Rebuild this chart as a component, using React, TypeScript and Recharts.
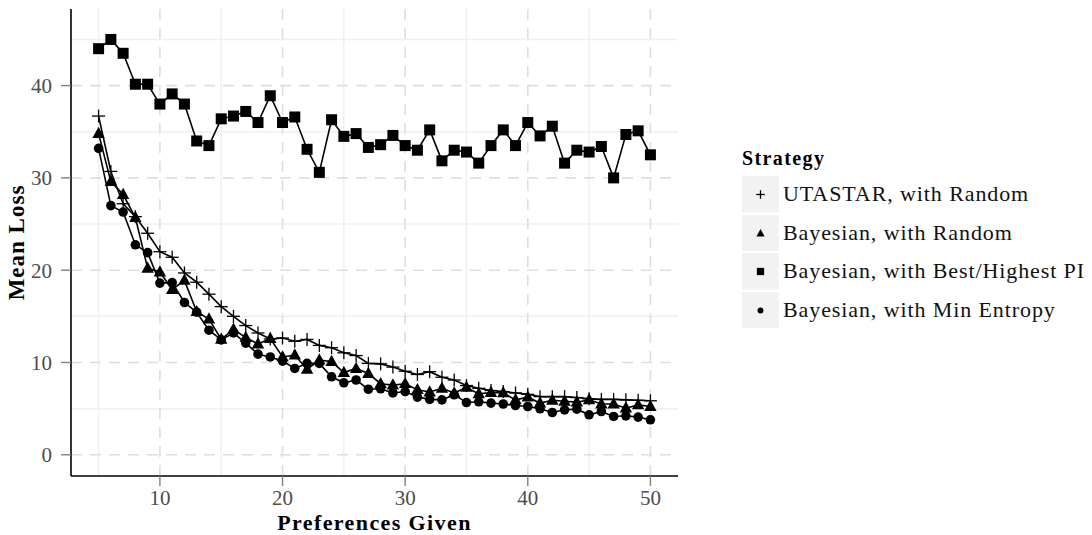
import { CartesianGrid, Line, LineChart, XAxis, YAxis } from 'recharts'

const PREFS = [
  5, 6, 7, 8, 9, 10, 11, 12, 13, 14, 15, 16, 17, 18, 19, 20, 21, 22, 23, 24, 25, 26, 27,
  28, 29, 30, 31, 32, 33, 34, 35, 36, 37, 38, 39, 40, 41, 42, 43, 44, 45, 46, 47, 48, 49, 50,
]

const UTASTAR_RANDOM = [
  36.7, 30.7, 27.2, 25.8, 24.0, 22.0, 21.4, 19.7, 18.7, 17.4, 16.05, 15.0, 14.0, 13.2, 12.55,
  12.65, 12.3, 12.5, 11.85, 11.6, 11.05, 10.75, 9.9, 9.85, 9.5, 9.05, 8.7, 9.0, 8.4, 8.1, 7.5,
  7.2, 6.96, 6.85, 6.7, 6.55, 6.3, 6.3, 6.3, 6.2, 6.06, 6.0, 6.0, 5.95, 5.9, 5.85,
]

const BAYES_RANDOM = [
  34.8, 29.6, 28.2, 25.7, 20.2, 19.8, 17.9, 18.9, 15.5, 14.7, 12.5, 13.6, 12.7, 12.0, 12.6,
  10.6, 10.8, 9.25, 10.25, 10.1, 8.9, 9.35, 8.8, 7.7, 7.55, 7.7, 7.05, 6.8, 7.2, 6.7, 7.3, 6.6,
  6.75, 6.7, 5.95, 6.24, 5.6, 5.9, 5.8, 5.7, 5.95, 5.5, 5.5, 5.05, 5.4, 5.23,
]

const BAYES_BEST_PI = [
  44.0, 45.0, 43.5, 40.15, 40.15, 38.0, 39.1, 38.0, 34.0, 33.5, 36.4, 36.7, 37.2, 36.0, 38.9,
  36.0, 36.6, 33.1, 30.6, 36.3, 34.5, 34.8, 33.3, 33.6, 34.6, 33.5, 33.0, 35.2, 31.85, 33.0,
  32.8, 31.6, 33.5, 35.2, 33.5, 36.0, 34.55, 35.6, 31.6, 33.0, 32.8, 33.4, 30.0, 34.7, 35.1, 32.5,
]

const BAYES_MIN_ENTROPY = [
  33.2, 27.0, 26.3, 22.75, 21.9, 18.6, 18.65, 16.5, 15.45, 13.5, 12.45, 13.2, 12.1, 10.9, 10.6,
  10.15, 9.35, 9.9, 9.9, 8.45, 7.8, 8.1, 7.1, 7.15, 6.7, 6.85, 6.25, 6.0, 5.95, 6.5, 5.66, 5.74,
  5.6, 5.5, 5.34, 5.23, 4.98, 4.58, 4.87, 4.94, 4.33, 4.69, 4.15, 4.22, 4.08, 3.79,
]

const X_TICKS = [10, 20, 30, 40, 50]
const Y_TICKS = [0, 10, 20, 30, 40]
const X_MINOR = [5, 15, 25, 35, 45]
const Y_MINOR = [5, 15, 25, 35, 45]

const LEGEND_TITLE = 'Strategy'
const SERIES = [
  { key: 'utastar', name: 'UTASTAR, with Random', shape: 'plus' },
  { key: 'bayesRandom', name: 'Bayesian, with Random', shape: 'triangle' },
  { key: 'bayesBest', name: 'Bayesian, with Best/Highest PI', shape: 'square' },
  { key: 'bayesEntropy', name: 'Bayesian, with Min Entropy', shape: 'circle' },
]

const data = PREFS.map((x, i) => ({
  x,
  utastar: UTASTAR_RANDOM[i],
  bayesRandom: BAYES_RANDOM[i],
  bayesBest: BAYES_BEST_PI[i],
  bayesEntropy: BAYES_MIN_ENTROPY[i],
}))

const FONT = '"Liberation Serif", "Times New Roman", serif'
const INK = '#000'

function Marker({ shape, cx, cy, s }: { shape: string; cx: number; cy: number; s: number }) {
  if (shape === 'plus') {
    return (
      <g stroke={INK} strokeWidth={1.3}>
        <line x1={cx - 6.5 * s} y1={cy} x2={cx + 6.5 * s} y2={cy} />
        <line x1={cx} y1={cy - 6.5 * s} x2={cx} y2={cy + 6.5 * s} />
      </g>
    )
  }
  if (shape === 'triangle') {
    const pts = `${cx},${cy - 6.8 * s} ${cx - 6.2 * s},${cy + 4.4 * s} ${cx + 6.2 * s},${cy + 4.4 * s}`
    return <polygon points={pts} fill={INK} />
  }
  if (shape === 'square') {
    return <rect x={cx - 5.5 * s} y={cy - 5.5 * s} width={11 * s} height={11 * s} fill={INK} />
  }
  return <circle cx={cx} cy={cy} r={4.8 * s} fill={INK} />
}

function makeDot(shape: string) {
  return (props: any) => {
    const { cx, cy, index } = props
    if (cx == null || cy == null) return <g key={`n${index}`} />
    return (
      <g key={`${shape}${index}`}>
        <Marker shape={shape} cx={cx} cy={cy} s={1} />
      </g>
    )
  }
}

function StrategyLegend() {
  return (
    <div style={{ position: 'absolute', left: 742, top: 142, fontFamily: FONT }}>
      <div style={{ fontWeight: 'bold', fontSize: 20, letterSpacing: 1.4, height: 33, lineHeight: '32px' }}>
        {LEGEND_TITLE}
      </div>
      {SERIES.map(s => (
        <div key={s.key} style={{ display: 'flex', alignItems: 'center', height: 38.5 }}>
          <svg width={37} height={36.5} style={{ display: 'block' }}>
            <rect x={0} y={0} width={37} height={36.5} fill="#f2f2f2" />
            <Marker shape={s.shape} cx={18.5} cy={18.5} s={s.shape === 'circle' ? 0.62 : 0.66} />
          </svg>
          <span style={{ marginLeft: 4, fontSize: 22, letterSpacing: 0.9, color: '#111', whiteSpace: 'nowrap' }}>
            {s.name}
          </span>
        </div>
      ))}
    </div>
  )
}

const tickStyle = { fill: '#4d4d4d', fontSize: 21, fontFamily: FONT, style: { fontFamily: FONT } }

export default function App() {
  return (
    <div
      style={{
        position: 'absolute',
        left: 0,
        top: 0,
        width: 1092,
        height: 535,
        background: '#fff',
        overflow: 'hidden',
        fontFamily: FONT,
      }}
    >
      <LineChart width={1092} height={535} data={data} margin={{ top: 9, right: 414, bottom: 0, left: 0 }}>
        <CartesianGrid
          horizontalValues={Y_MINOR}
          verticalValues={X_MINOR}
          stroke="#f0f0f0"
          strokeWidth={1.5}
        />
        <CartesianGrid
          horizontalValues={Y_TICKS}
          verticalValues={X_TICKS}
          stroke="#dedede"
          strokeWidth={1.6}
          strokeDasharray="11 8"
        />
        <XAxis
          type="number"
          dataKey="x"
          domain={[2.75, 52.25]}
          ticks={X_TICKS}
          allowDataOverflow
          height={59}
          tickSize={10}
          tickMargin={4}
          tickLine={{ stroke: '#808080', strokeWidth: 1.4 }}
          axisLine={{ stroke: INK, strokeWidth: 1.6 }}
          tick={tickStyle}
          label={{
            value: 'Preferences Given',
            position: 'insideBottom',
            offset: 5,
            fill: INK,
            fontSize: 22,
            fontWeight: 'bold',
            letterSpacing: 1.4,
            fontFamily: FONT,
          }}
        />
        <YAxis
          type="number"
          domain={[-2.3, 48.3]}
          ticks={Y_TICKS}
          allowDataOverflow
          width={71}
          tickSize={10}
          tickMargin={9}
          tickLine={{ stroke: '#808080', strokeWidth: 1.4 }}
          axisLine={{ stroke: INK, strokeWidth: 1.6 }}
          tick={tickStyle}
          label={{
            value: 'Mean Loss',
            angle: -90,
            position: 'insideLeft',
            offset: 16,
            fill: INK,
            fontSize: 23,
            fontWeight: 'bold',
            letterSpacing: 1,
            fontFamily: FONT,
            style: { textAnchor: 'middle' },
          }}
        />
        {SERIES.map(s => (
          <Line
            key={s.key}
            type="linear"
            dataKey={s.key}
            name={s.name}
            stroke={INK}
            strokeWidth={1.6}
            dot={makeDot(s.shape)}
            activeDot={false}
            isAnimationActive={false}
          />
        ))}
      </LineChart>
      <StrategyLegend />
    </div>
  )
}
